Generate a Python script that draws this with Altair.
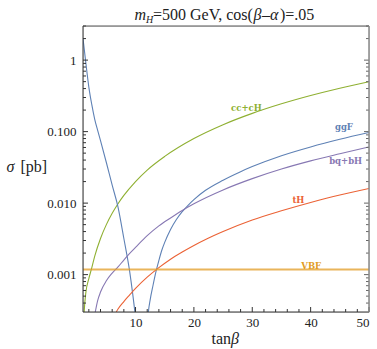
import altair as alt
import pandas as pd

# ---------------- data ----------------
series_names = ["cc+cH", "ggF", "bq+bH", "tH", "VBF"]
series_colors = ["#8FB032", "#5E81B5", "#8778B3", "#EB6235", "#E19C24"]

cc_x = [1.0, 1.2, 1.5, 2, 2.5, 3, 4, 5, 6, 7, 8, 10, 12, 15, 20, 25, 30, 35, 40, 45, 50]
cc_y = [0.00012, 0.0003, 0.00057, 0.00088, 0.00124, 0.0018, 0.0032, 0.0050, 0.0072, 0.0098,
        0.0128, 0.020, 0.029, 0.045, 0.080, 0.125, 0.180, 0.245, 0.320, 0.405, 0.50]

gg_x = [1.0, 1.43, 2, 2.5, 3, 3.5, 4, 5, 6, 7, 8, 9, 9.5, 10, 10.5, 11.2, 11.8, 12.2, 12.5,
        13, 13.5, 14, 14.5, 15, 16, 17, 18, 19, 20, 22, 25, 28, 30, 35, 40, 45, 50]
gg_y = [2.0, 1.0, 0.42, 0.24, 0.15, 0.105, 0.075, 0.037, 0.0178, 0.0088, 0.0032, 0.0011,
        0.00055, 0.00025, 0.0001, 0.000001, 0.0001, 0.0003, 0.00044, 0.00071, 0.0011, 0.00158,
        0.00219, 0.00282, 0.00427, 0.00589, 0.00759, 0.00933, 0.0112, 0.0151, 0.0209, 0.0275,
        0.0324, 0.046, 0.061, 0.078, 0.097]

bq_x = [3.1, 3.5, 4, 5, 6, 7, 8, 9, 10, 12, 14, 16, 18, 20, 25, 30, 35, 40, 45, 50]
bq_y = [0.0003, 0.00043, 0.00057, 0.00082, 0.00105, 0.00128, 0.0016, 0.00198, 0.0024, 0.0035,
        0.0048, 0.0062, 0.0079, 0.0098, 0.0153, 0.022, 0.030, 0.039, 0.049, 0.061]

th_x = [6.7, 7, 8, 9, 10, 12, 14, 16, 18, 20, 22, 25, 30, 35, 40, 45, 50]
th_y = [0.0003, 0.00033, 0.00042, 0.00052, 0.00064, 0.00092, 0.00125, 0.00164, 0.00207,
        0.00256, 0.0031, 0.0040, 0.0058, 0.0078, 0.0102, 0.0130, 0.016]

vbf_x = [1, 50]
vbf_y = [0.00118, 0.00118]

label_x = [29.0, 45.7, 46.0, 37.9, 40.1]
label_y = [0.213, 0.115, 0.0385, 0.011, 0.00134]

x_major = [10, 20, 30, 40, 50]
x_minor = [2, 4, 6, 8, 12, 14, 16, 18, 22, 24, 26, 28, 32, 34, 36, 38, 42, 44, 46, 48]
y_major = [0.001, 0.01, 0.1, 1]
y_minor = [0.0004, 0.0005, 0.0006, 0.0007, 0.0008, 0.0009,
           0.002, 0.003, 0.004, 0.005, 0.006, 0.007, 0.008, 0.009,
           0.02, 0.03, 0.04, 0.05, 0.06, 0.07, 0.08, 0.09,
           0.2, 0.3, 0.4, 0.5, 0.6, 0.7, 0.8, 0.9, 2, 3]

# ---------------- tables ----------------
rows = []
for name, xs, ys in [("cc+cH", cc_x, cc_y), ("ggF", gg_x, gg_y), ("bq+bH", bq_x, bq_y),
                     ("tH", th_x, th_y)]:
    for i, (a, b) in enumerate(zip(xs, ys)):
        rows.append({"series": name, "x": a, "y": b, "i": i})
lines_df = pd.DataFrame(rows)
vbf_df = pd.DataFrame({"series": "VBF", "x": vbf_x, "y": vbf_y, "i": [0, 1]})
labels_df = pd.DataFrame({"series": series_names, "x": label_x, "y": label_y})

W, H = 286, 286
SERIF = "Liberation Serif, Times New Roman, Times, serif"
TICKFONT = SERIF

xscale = alt.Scale(domain=[1, 50], nice=False, zero=False)
yscale = alt.Scale(type="log", domain=[0.0003, 3], nice=False)
cscale = alt.Scale(domain=series_names, range=series_colors)

xaxis = alt.Axis(values=x_major, format="d", ticks=False, domain=False, grid=False,
                 labelFont=TICKFONT, labelFontSize=13, labelColor="#222", labelPadding=4,
                 title=None)
yaxis = alt.Axis(values=y_major, labelExpr="datum.value >= 1 ? '1' : format(datum.value, '.3f')",
                 ticks=False, domain=False, grid=False, labelFont=TICKFONT, labelFontSize=13,
                 labelColor="#222", labelPadding=7, title=None)

X = lambda f: alt.X(f, type="quantitative", scale=xscale, axis=xaxis)
Y = lambda f: alt.Y(f, type="quantitative", scale=yscale, axis=yaxis)

curves = alt.Chart(lines_df).mark_line(strokeWidth=1.1, clip=True, interpolate="monotone").encode(
    x=X("x"), y=Y("y"),
    color=alt.Color("series:N", scale=cscale, legend=None),
    detail="series:N", order="i:Q")

vbf = alt.Chart(vbf_df).mark_line(strokeWidth=2, opacity=0.75, clip=True).encode(
    x=X("x"), y=Y("y"),
    color=alt.Color("series:N", scale=cscale, legend=None))

labels = alt.Chart(labels_df).mark_text(font="DejaVu Serif", fontWeight="bold", fontSize=8.5,
                                         baseline="middle", align="center").encode(
    x=X("x"), y=Y("y"), text="series:N",
    color=alt.Color("series:N", scale=cscale, legend=None))

one = pd.DataFrame({"a": [0]})
xmaj_df = pd.DataFrame({"v": x_major})
xmin_df = pd.DataFrame({"v": x_minor})
ymaj_df = pd.DataFrame({"v": y_major})
ymin_df = pd.DataFrame({"v": y_minor})

def xticks(df, n):
    return alt.Chart(df).mark_rule(color="#333", strokeWidth=1).encode(
        x=X("v"), y=alt.value(H), y2=alt.value(H - n))

def yticks(df, n, right=False):
    if right:
        return alt.Chart(df).mark_rule(color="#666", strokeWidth=1).encode(
            y=Y("v"), x=alt.value(W), x2=alt.value(W - n))
    return alt.Chart(df).mark_rule(color="#333", strokeWidth=1).encode(
        y=Y("v"), x=alt.value(0), x2=alt.value(n))

def frame(x1, y1, x2, y2, color, w=1):
    return alt.Chart(one).mark_rule(color=color, strokeWidth=w).encode(
        x=alt.value(x1), y=alt.value(y1), x2=alt.value(x2), y2=alt.value(y2))

def txt(s, x, y, size=15, style="normal", align="left"):
    return alt.Chart(one).mark_text(font=SERIF, fontSize=size, fontStyle=style, align=align,
                                    baseline="alphabetic", color="#222").encode(
        x=alt.value(x), y=alt.value(y), text=alt.value(s))

T = 2  # title shift
texts = [
    txt("m", 49.5 + T, -6, size=16, style="italic"),
    txt("H", 61 + T, -3, size=10, style="italic"),
    txt("=500 GeV, cos(", 68 + T, -6, size=16),
    txt("\u03b2", 168.5 + T, -6, size=16, style="italic"),
    txt("\u2013", 177 + T, -6, size=16),
    txt("\u03b1", 185 + T, -6, size=16, style="italic"),
    txt(")=.05", 195 + T, -6, size=16),
    txt("tan", 128.5, 318, size=16),
    txt("\u03b2", 148, 318, size=16, style="italic"),
    txt("\u03c3", -76.5, 146, size=16, style="italic"),
    txt("[pb]", -62.5, 146, size=16),
]

chart = alt.layer(
    curves, vbf, labels,
    xticks(xmaj_df, 5), xticks(xmin_df, 3),
    yticks(ymaj_df, 5), yticks(ymin_df, 3),
    yticks(ymaj_df, 5, True), yticks(ymin_df, 3, True),
    frame(0, 0, W, 0, "#555"), frame(0, H, W, H, "#333"),
    frame(0, 0, 0, H, "#333"), frame(W, 0, W, H, "#888", 1.5),
    *texts,
).properties(
    width=W, height=H,
    padding={"left": 83, "top": 26, "right": 8, "bottom": 37},
    autosize=alt.AutoSizeParams(type="none"),
).configure_view(stroke=None).configure(background="white")

chart.save("out.html", embed_options={"renderer": "svg", "actions": False})
